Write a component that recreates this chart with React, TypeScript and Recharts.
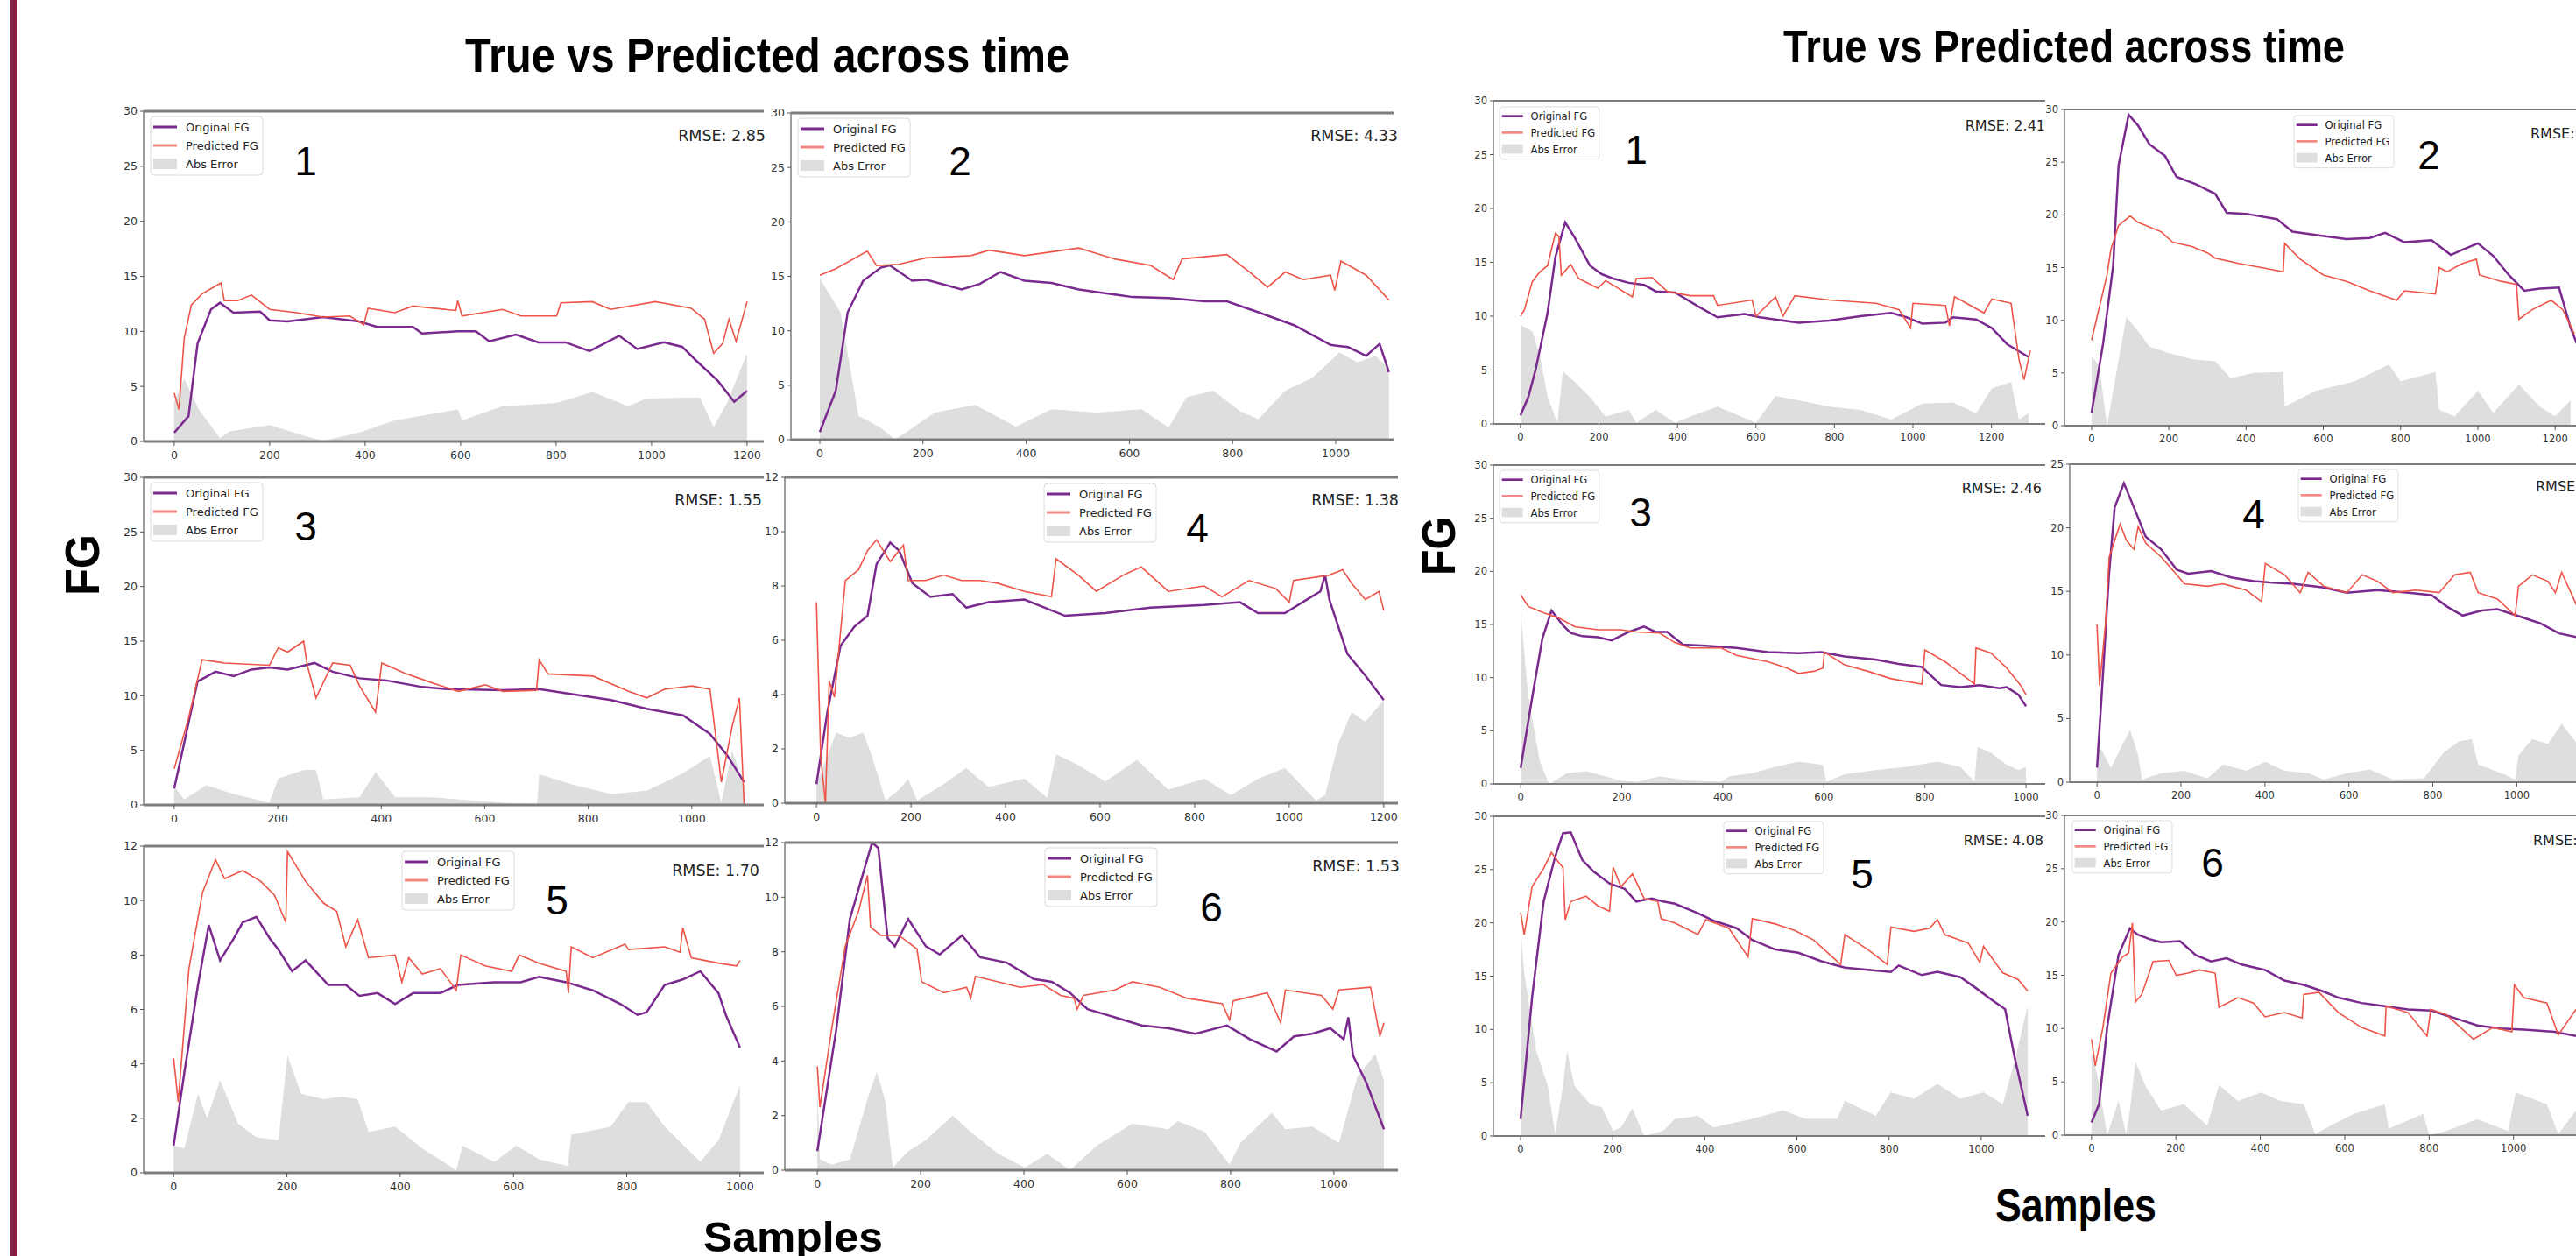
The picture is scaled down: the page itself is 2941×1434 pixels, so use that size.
import { ComposedChart, Line, Area, XAxis, YAxis, ReferenceLine } from "recharts";

const PURPLE = "#7a2a8e";
const RED = "#ee5448";
const GREY_FILL = "#dedede";
const SPINE = "#7d7d7d";
const MAROON = "#8b1c46";

type Pt = [number, number];

// ---- left figure: samples / FG values ----
const l1Orig: Pt[] = [[0,0.8],[30,2.3],[49,8.9],[77,12.0],[96,12.6],[124,11.7],[180,11.8],[200,11.0],[237,10.9],[312,11.3],[387,10.9],[425,10.4],[500,10.4],[519,9.8],[594,10.0],[632,10.0],[660,9.1],[716,9.7],[763,9.0],[820,9.0],[870,8.2],[932,9.6],[970,8.4],[1026,9.0],[1064,8.6],[1092,7.4],[1139,5.5],[1173,3.6],[1200,4.6]];
const l1Pred: Pt[] = [[0,4.4],[10,2.9],[21,9.4],[36,12.4],[58,13.4],[86,14.1],[98,14.4],[105,12.8],[133,12.8],[162,13.3],[200,12.0],[256,11.7],[312,11.3],[368,11.4],[397,10.6],[406,12.1],[462,11.7],[500,12.3],[590,11.9],[594,12.8],[603,11.4],[688,12.0],[726,11.4],[801,11.4],[810,12.6],[876,12.7],[914,12.0],[1008,12.7],[1083,12.1],[1111,11.1],[1130,8.0],[1149,8.9],[1162,11.1],[1177,9.1],[1200,12.7]];
const l1Err: Pt[] = [[0,3.6],[21,5.7],[50,3.0],[96,0.3],[115,0.9],[200,1.5],[274,0.5],[312,0.05],[387,0.8],[462,1.9],[594,2.9],[603,1.9],[688,3.2],[801,3.5],[876,4.5],[951,3.2],[989,3.9],[1101,4.0],[1130,1.3],[1158,3.5],[1200,8.0]];

const l2Orig: Pt[] = [[0,0.7],[31,4.5],[54,11.7],[84,14.6],[118,15.8],[136,16.0],[179,14.6],[206,14.7],[275,13.8],[310,14.3],[350,15.4],[397,14.6],[449,14.4],[502,13.8],[606,13.1],[676,13.0],[746,12.7],[789,12.7],[850,11.7],[920,10.5],[990,8.7],[1024,8.5],[1059,7.7],[1085,8.8],[1103,6.2]];
const l2Pred: Pt[] = [[0,15.1],[31,15.7],[92,17.3],[110,16.0],[153,16.1],[206,16.7],[293,16.9],[328,17.4],[397,16.9],[502,17.6],[571,16.6],[641,16.0],[685,14.7],[702,16.6],[789,17.0],[833,15.4],[868,14.0],[902,15.4],[937,14.7],[990,15.1],[998,13.7],[1010,16.4],[1059,15.1],[1094,13.3],[1103,12.8]];
const l2Err: Pt[] = [[0,14.8],[40,11.7],[75,2.2],[118,1.1],[145,0],[171,0.8],[223,2.5],[301,3.2],[380,1.2],[449,2.8],[537,2.5],[624,2.8],[676,1.1],[711,3.9],[763,4.5],[815,2.6],[850,1.9],[902,4.5],[955,5.7],[1007,8.0],[1042,7.1],[1077,7.7],[1103,6.5]];

const l3Orig: Pt[] = [[0,1.5],[19,5.6],[45,11.3],[80,12.2],[115,11.8],[149,12.4],[184,12.6],[219,12.4],[271,13.0],[306,12.2],[358,11.6],[410,11.4],[479,10.8],[531,10.6],[635,10.5],[705,10.6],[774,10.1],[844,9.6],[913,8.8],[983,8.2],[1035,6.5],[1069,4.5],[1101,2.1]];
const l3Pred: Pt[] = [[0,3.3],[28,8.0],[54,13.3],[97,13.0],[184,12.8],[201,14.4],[219,14.0],[250,15.0],[257,12.8],[274,9.8],[306,13.0],[340,12.8],[358,10.9],[389,8.5],[401,13.0],[444,12.1],[497,11.2],[549,10.4],[601,11.0],[635,10.4],[700,10.5],[705,13.3],[722,12.0],[809,11.8],[878,10.4],[913,9.8],[948,10.6],[1000,10.9],[1035,10.6],[1057,2.1],[1078,7.2],[1092,9.8],[1101,0]];
const l3Err: Pt[] = [[0,1.7],[19,0.5],[62,1.8],[115,1.0],[184,0.2],[201,2.4],[250,3.2],[274,3.2],[288,0.5],[358,0.7],[389,3.0],[427,0.7],[497,0.7],[635,0.2],[701,0.1],[705,2.8],[774,1.8],[844,1.0],[913,1.3],[983,2.9],[1035,4.5],[1057,0.2],[1078,5.0],[1101,1.8]];

const l4Orig: Pt[] = [[0,0.7],[23,3.35],[51,5.8],[80,6.5],[108,6.9],[127,8.8],[156,9.6],[175,9.3],[203,8.1],[241,7.6],[288,7.7],[317,7.2],[364,7.4],[440,7.5],[497,7.1],[526,6.9],[611,7.0],[706,7.2],[820,7.3],[896,7.4],[934,7.0],[991,7.0],[1047,7.6],[1066,7.8],[1076,8.4],[1085,7.5],[1123,5.5],[1161,4.7],[1200,3.8]];
const l4Pred: Pt[] = [[0,7.4],[9,1.7],[19,0.0],[27,4.5],[38,3.9],[61,8.2],[89,8.6],[108,9.3],[127,9.7],[156,8.9],[184,9.5],[194,8.2],[231,8.2],[269,8.4],[307,8.2],[345,8.2],[383,8.1],[440,7.8],[497,7.6],[507,9.0],[554,8.4],[592,7.8],[649,8.4],[687,8.7],[744,7.8],[820,8.0],[858,7.6],[915,8.2],[972,7.9],[1000,7.4],[1009,8.2],[1085,8.4],[1113,8.6],[1132,8.1],[1161,7.5],[1190,7.8],[1200,7.1]];
const l4Err: Pt[] = [[0,0.7],[42,2.6],[70,2.4],[99,2.6],[118,1.7],[146,0.1],[175,0.5],[194,0.9],[213,0.1],[269,0.7],[317,1.3],[364,0.6],[440,0.9],[488,0.2],[507,1.8],[554,1.4],[611,0.8],[678,1.6],[744,0.5],[820,0.9],[877,0.3],[934,0.9],[991,1.3],[1057,0.1],[1076,0.3],[1104,2.2],[1132,3.35],[1161,3.0],[1200,3.8]];

const l5Orig: Pt[] = [[0,1.0],[19,3.7],[43,6.9],[62,9.1],[82,7.8],[106,8.6],[122,9.2],[146,9.4],[170,8.6],[185,8.2],[209,7.4],[233,7.8],[273,6.9],[304,6.9],[328,6.5],[360,6.6],[391,6.2],[423,6.6],[471,6.6],[502,6.9],[566,7.0],[613,7.0],[645,7.2],[693,7.0],[740,6.7],[789,6.2],[819,5.8],[835,5.9],[867,6.9],[899,7.1],[930,7.4],[962,6.6],[975,5.8],[1000,4.6]];
const l5Pred: Pt[] = [[0,4.2],[8,2.6],[27,7.5],[51,10.3],[74,11.5],[90,10.8],[122,11.1],[154,10.7],[178,10.2],[198,9.2],[201,11.8],[233,10.7],[265,9.9],[288,9.6],[304,8.3],[325,9.3],[344,7.9],[391,8.0],[403,7.0],[415,7.9],[439,7.3],[471,7.5],[499,6.7],[507,8.0],[550,7.6],[597,7.4],[610,8.0],[645,7.7],[693,7.4],[697,6.6],[702,8.3],[740,7.9],[797,8.4],[803,8.2],[867,8.3],[894,8.1],[899,9.0],[914,7.9],[962,7.7],[994,7.6],[1000,7.8]];
const l5Err: Pt[] = [[0,1.0],[19,0.9],[43,2.9],[59,2.0],[82,3.4],[114,1.8],[146,1.3],[185,1.2],[201,4.3],[225,2.9],[265,2.7],[296,2.8],[325,2.7],[344,1.5],[391,1.7],[439,0.9],[499,0.1],[510,1.0],[566,0.4],[605,1.0],[645,0.5],[696,0.25],[702,1.4],[772,1.7],[803,2.6],[835,2.6],[867,1.7],[930,0.4],[962,1.2],[1000,3.2]];

const l6Orig: Pt[] = [[0,0.7],[37,5.2],[63,9.2],[89,10.9],[106,12.0],[118,11.8],[136,8.5],[150,8.2],[176,9.2],[210,8.2],[237,7.9],[280,8.6],[315,7.8],[367,7.6],[419,7.0],[454,6.9],[489,6.5],[523,5.9],[576,5.6],[628,5.3],[680,5.2],[732,5.0],[793,5.3],[837,4.8],[889,4.35],[923,4.9],[958,5.0],[993,5.2],[1019,4.8],[1028,5.6],[1037,4.2],[1063,3.2],[1097,1.5]];
const l6Pred: Pt[] = [[0,3.8],[5,2.3],[28,5.2],[54,8.2],[80,9.5],[97,10.8],[103,8.9],[123,8.6],[158,8.6],[193,8.1],[202,6.9],[245,6.5],[289,6.7],[297,6.3],[306,7.1],[350,6.9],[393,6.7],[437,6.8],[471,6.4],[497,6.3],[503,5.9],[515,6.4],[576,6.6],[610,6.9],[663,6.7],[715,6.3],[784,6.1],[798,5.5],[805,6.2],[871,6.5],[897,5.4],[906,6.6],[976,6.4],[998,5.9],[1010,6.6],[1071,6.7],[1089,4.9],[1097,5.4]];
const l6Err: Pt[] = [[0,3.1],[5,0.4],[28,0.2],[63,0.4],[80,1.5],[97,2.6],[115,3.6],[132,2.5],[146,0.1],[176,0.7],[210,1.1],[262,2.0],[297,1.4],[350,0.6],[402,0.1],[445,0.6],[489,0],[541,0.9],[610,1.7],[680,1.5],[698,1.8],[750,1.4],[798,0.2],[819,1.0],[880,2.1],[906,1.5],[958,1.6],[1010,1.0],[1045,3.4],[1080,4.25],[1097,3.3]];

// ---- right figure ----
const r1Orig: Pt[] = [[0,0.8],[20,2.5],[39,5.1],[69,10.3],[89,15.5],[114,18.7],[138,17.3],[177,14.7],[207,13.9],[236,13.5],[276,13.1],[315,12.9],[345,12.3],[394,12.2],[453,10.9],[502,9.9],[571,10.2],[610,9.9],[709,9.4],[787,9.6],[866,10.0],[945,10.3],[984,9.9],[1024,9.3],[1083,9.4],[1102,9.9],[1161,9.7],[1201,8.9],[1240,7.4],[1295,6.2]];
const r1Pred: Pt[] = [[0,10.0],[10,10.6],[30,13.2],[49,14.1],[69,14.7],[89,17.7],[98,17.4],[104,13.8],[128,14.8],[148,13.5],[197,12.6],[217,13.3],[285,11.8],[295,13.5],[335,13.6],[374,12.3],[433,11.9],[492,11.9],[502,11.0],[590,11.5],[600,10.0],[650,11.8],[669,10.0],[699,11.9],[787,11.5],[906,11.2],[965,10.6],[994,8.9],[1000,11.2],[1083,11.0],[1093,9.1],[1106,11.8],[1181,10.3],[1201,11.6],[1250,11.2],[1270,6.0],[1283,4.1],[1299,6.8]];
const r1Err: Pt[] = [[0,9.2],[30,8.6],[49,6.5],[69,2.5],[94,0.1],[108,4.9],[138,3.9],[177,2.5],[217,0.7],[276,1.3],[295,0.1],[345,1.3],[394,0.1],[433,0.7],[502,1.6],[600,0.1],[650,2.6],[709,2.2],[787,1.6],[866,1.3],[945,0.4],[1024,1.9],[1102,2.0],[1161,1.0],[1201,3.3],[1250,3.9],[1270,0.4],[1295,1.0]];

const r2Orig: Pt[] = [[0,1.2],[30,7.8],[56,15.2],[70,24.7],[96,29.5],[120,28.5],[150,26.7],[190,25.6],[220,23.6],[270,22.9],[320,22.0],[350,20.2],[400,20.1],[480,19.6],[520,18.4],[580,18.1],[660,17.7],[720,17.8],[760,18.3],[810,17.4],[880,17.6],[930,16.2],[960,16.7],[1000,17.3],[1040,16.1],[1080,14.3],[1120,12.8],[1160,13.0],[1210,13.1],[1240,9.3],[1256,7.8]];
const r2Pred: Pt[] = [[0,8.1],[40,14.3],[50,16.7],[70,19.0],[100,19.9],[120,19.3],[180,18.4],[210,17.4],[260,17.0],[300,16.4],[320,15.9],[380,15.4],[440,15.0],[496,14.6],[500,17.3],[540,15.8],[600,14.3],[660,13.7],[720,12.8],[790,11.9],[810,12.8],[890,12.5],[900,15.0],[920,14.6],[960,15.4],[996,15.8],[1004,14.3],[1060,13.7],[1100,13.4],[1106,10.1],[1140,11.0],[1190,11.9],[1220,11.0],[1250,8.7]];
const r2Err: Pt[] = [[0,6.6],[20,5.7],[40,0],[90,10.3],[120,9.0],[150,7.5],[200,6.9],[260,6.3],[320,6.1],[360,4.5],[420,5.0],[496,5.1],[500,1.8],[580,3.3],[680,4.2],[770,5.8],[800,4.2],[890,5.1],[900,1.5],[940,0.9],[1000,3.3],[1040,1.2],[1106,3.9],[1160,1.8],[1200,0.9],[1240,2.4]];

const r3Orig: Pt[] = [[0,1.5],[23,8.2],[43,13.7],[61,16.3],[84,14.9],[99,14.2],[122,13.9],[153,13.8],[180,13.5],[214,14.3],[244,14.8],[267,14.3],[290,14.3],[321,13.1],[366,13.0],[427,12.8],[489,12.4],[550,12.3],[595,12.4],[641,12.0],[702,11.7],[748,11.3],[794,11.0],[832,9.3],[870,9.1],[908,9.3],[947,9.0],[962,9.1],[985,8.4],[1000,7.3]];
const r3Pred: Pt[] = [[0,17.8],[15,16.7],[46,16.1],[76,15.6],[107,14.8],[153,14.5],[198,14.5],[229,14.3],[275,14.2],[305,13.3],[336,12.8],[397,12.8],[427,12.1],[489,11.5],[527,10.9],[550,10.4],[580,10.6],[598,10.9],[601,12.4],[641,11.2],[687,10.6],[733,9.9],[794,9.4],[800,12.6],[840,11.5],[898,9.4],[901,12.8],[931,12.3],[962,10.9],[989,9.3],[1000,8.4]];
const r3Err: Pt[] = [[0,16.2],[15,8.2],[38,2.1],[56,0],[92,1.0],[130,1.2],[168,0.7],[198,0.3],[229,0.2],[275,0.7],[336,0.3],[397,0.2],[412,0.7],[458,1.0],[504,1.6],[550,2.1],[598,1.8],[605,0.2],[641,0.9],[702,1.3],[763,1.6],[824,2.1],[870,1.6],[898,0.2],[904,3.5],[931,2.9],[962,1.8],[985,1.3],[1000,1.6]];

const r4Orig: Pt[] = [[0,1.15],[15,8.9],[28,16.1],[42,21.6],[64,23.5],[88,21.6],[116,19.3],[153,18.3],[190,16.7],[217,16.4],[272,16.6],[319,16.1],[374,15.8],[411,15.7],[466,15.6],[540,15.3],[595,14.9],[668,15.1],[742,14.9],[797,14.7],[834,13.8],[871,13.1],[917,13.5],[954,13.6],[1000,13.1],[1055,12.5],[1101,11.7],[1144,11.4]];
const r4Pred: Pt[] = [[0,12.4],[6,7.6],[20,12.4],[29,17.7],[55,20.3],[70,19.0],[88,18.3],[98,20.1],[116,18.8],[153,17.7],[190,16.3],[208,15.6],[263,15.4],[300,15.6],[355,15.1],[392,14.2],[401,17.2],[447,16.3],[484,14.9],[503,16.5],[540,15.4],[595,14.9],[632,16.3],[668,15.8],[705,14.9],[760,15.1],[815,14.9],[852,16.3],[889,16.5],[908,14.9],[954,14.4],[996,13.1],[1004,15.4],[1037,16.3],[1074,15.8],[1092,14.9],[1107,16.5],[1144,13.8]];
const r4Err: Pt[] = [[0,3.2],[33,1.1],[61,3.0],[79,4.1],[98,2.1],[107,0.2],[153,0.7],[208,0.9],[263,0.3],[300,1.4],[355,0.9],[401,1.6],[447,0.9],[503,0.7],[540,0.2],[595,0.7],[650,1.0],[705,0.2],[779,0.3],[825,2.3],[862,3.2],[893,3.4],[908,1.4],[963,0.7],[996,0.2],[1004,2.1],[1037,3.4],[1074,3.0],[1107,4.6],[1144,3.0]];

const r5Orig: Pt[] = [[0,1.6],[25,13.0],[50,22.0],[75,26.2],[92,28.4],[109,28.5],[134,25.9],[159,24.8],[193,23.7],[226,23.2],[251,22.0],[285,22.3],[310,22.0],[335,21.8],[385,20.9],[419,20.2],[469,19.5],[503,18.4],[553,17.5],[603,17.2],[653,16.4],[704,15.8],[754,15.6],[804,15.4],[821,16.0],[871,15.1],[905,15.4],[955,14.9],[988,13.9],[1022,12.8],[1052,11.9],[1072,7.5],[1101,1.9]];
const r5Pred: Pt[] = [[0,21.0],[8,18.9],[25,23.4],[50,25.1],[67,26.6],[84,25.6],[92,25.2],[97,20.3],[109,22.0],[142,22.5],[168,21.6],[193,21.1],[201,25.2],[218,23.4],[243,24.6],[268,22.3],[298,22.0],[305,20.4],[335,20.0],[385,18.9],[402,20.3],[452,19.5],[494,16.8],[503,20.4],[553,19.9],[595,19.3],[636,18.4],[695,16.1],[704,18.9],[754,17.5],[796,16.1],[804,19.6],[854,19.2],[888,19.5],[905,20.3],[921,18.9],[972,18.1],[997,16.3],[1005,17.8],[1047,15.3],[1080,14.7],[1101,13.6]];
const r5Err: Pt[] = [[0,19.4],[8,15.3],[34,8.0],[59,4.7],[75,0.2],[92,4.7],[101,8.0],[117,4.7],[151,3.0],[176,2.7],[201,0.5],[218,0.8],[243,2.6],[268,0],[310,0.5],[335,1.6],[385,1.9],[419,0.8],[469,1.3],[503,1.6],[570,2.4],[620,1.6],[687,1.6],[704,3.3],[771,1.9],[804,4.1],[854,3.5],[905,4.9],[955,3.5],[1005,4.1],[1047,3.0],[1072,6.9],[1101,12.2]];

const r6Orig: Pt[] = [[0,1.2],[18,2.9],[37,10.1],[64,16.9],[91,19.4],[110,18.8],[137,18.4],[165,18.1],[210,18.2],[247,16.9],[283,16.3],[320,16.6],[356,16.0],[411,15.5],[457,14.5],[503,14.1],[548,13.5],[585,12.9],[640,12.4],[695,12.1],[750,11.8],[804,11.7],[859,11.0],[914,10.3],[969,10.0],[1024,9.9],[1097,9.7],[1148,9.3]];
const r6Pred: Pt[] = [[0,9.0],[9,6.5],[27,10.1],[46,15.2],[73,16.7],[88,17.1],[97,19.9],[104,12.5],[119,13.2],[146,16.3],[183,16.4],[201,15.0],[229,15.2],[256,15.5],[293,15.2],[302,12.0],[347,12.9],[384,12.4],[411,11.1],[457,11.5],[499,11.0],[503,13.2],[539,13.4],[585,11.5],[640,10.1],[695,9.3],[698,12.1],[750,11.5],[795,9.3],[804,11.8],[841,11.3],[905,9.0],[951,10.1],[996,9.7],[1002,14.1],[1024,12.9],[1079,12.4],[1106,9.4],[1148,11.8]];
const r6Err: Pt[] = [[0,7.8],[15,5.4],[37,0],[64,3.2],[82,0.1],[91,2.3],[104,6.9],[128,4.6],[165,2.3],[219,2.9],[274,0.9],[302,4.7],[347,3.2],[402,4.0],[448,3.2],[503,2.9],[530,0.1],[567,0.9],[622,2.0],[695,2.9],[704,0.6],[786,2.0],[800,0],[841,0.4],[914,1.5],[987,0.4],[1005,4.0],[1079,2.9],[1106,0.1],[1148,2.3]];

const ticks1000 = [0, 200, 400, 600, 800, 1000];
const ticks1200 = [0, 200, 400, 600, 800, 1000, 1200];
const fg30 = [0, 5, 10, 15, 20, 25, 30];
const fg25 = [0, 5, 10, 15, 20, 25];
const fg12 = [0, 2, 4, 6, 8, 10, 12];

const toRows = (pts: Pt[]) => pts.map(([x, y]) => ({ x, y }));

interface PanelProps {
  left: number; top: number; right: number; bottom: number;
  xDomain: [number, number]; xTicks: number[];
  yMax: number; yTicks: number[];
  orig: Pt[]; pred: Pt[]; err: Pt[];
  fontSize: number; spine: number;
  num: string; numX: number; numY: number;
  rmse: string; rmseX: number; rmseY: number; rmseAnchor: "start" | "end";
  legX: number; legY: number; legS: number;
}

const panels: PanelProps[] = [
  { left: 164, top: 127, right: 872, bottom: 504, xDomain: [-64, 1235], xTicks: ticks1200, yMax: 30, yTicks: fg30, orig: l1Orig, pred: l1Pred, err: l1Err, fontSize: 12.5, spine: 3, num: "1", numX: 349, numY: 200, rmse: "RMSE: 2.85", rmseX: 874, rmseY: 161, rmseAnchor: "end", legX: 172, legY: 133, legS: 1 },
  { left: 903, top: 129, right: 1591, bottom: 502, xDomain: [-56, 1112], xTicks: ticks1000, yMax: 30, yTicks: fg30, orig: l2Orig, pred: l2Pred, err: l2Err, fontSize: 12.5, spine: 3, num: "2", numX: 1096, numY: 200, rmse: "RMSE: 4.33", rmseX: 1596, rmseY: 161, rmseAnchor: "end", legX: 911, legY: 135, legS: 1 },
  { left: 164, top: 545, right: 872, bottom: 919, xDomain: [-59, 1139], xTicks: ticks1000, yMax: 30, yTicks: fg30, orig: l3Orig, pred: l3Pred, err: l3Err, fontSize: 12.5, spine: 3, num: "3", numX: 349, numY: 617, rmse: "RMSE: 1.55", rmseX: 870, rmseY: 577, rmseAnchor: "end", legX: 172, legY: 551, legS: 1 },
  { left: 896, top: 545, right: 1596, bottom: 917, xDomain: [-67, 1230], xTicks: ticks1200, yMax: 12, yTicks: fg12, orig: l4Orig, pred: l4Pred, err: l4Err, fontSize: 12.5, spine: 3, num: "4", numX: 1367, numY: 619, rmse: "RMSE: 1.38", rmseX: 1597, rmseY: 577, rmseAnchor: "end", legX: 1192, legY: 552, legS: 1 },
  { left: 164, top: 966, right: 872, bottom: 1339, xDomain: [-53, 1042], xTicks: ticks1000, yMax: 12, yTicks: fg12, orig: l5Orig, pred: l5Pred, err: l5Err, fontSize: 12.5, spine: 3, num: "5", numX: 636, numY: 1044, rmse: "RMSE: 1.70", rmseX: 867, rmseY: 1000, rmseAnchor: "end", legX: 459, legY: 972, legS: 1 },
  { left: 896, top: 962, right: 1596, bottom: 1336, xDomain: [-63, 1124], xTicks: ticks1000, yMax: 12, yTicks: fg12, orig: l6Orig, pred: l6Pred, err: l6Err, fontSize: 12.5, spine: 3, num: "6", numX: 1383, numY: 1052, rmse: "RMSE: 1.53", rmseX: 1598, rmseY: 995, rmseAnchor: "end", legX: 1193, legY: 968, legS: 1 },
  { left: 1705, top: 115, right: 2335, bottom: 484, xDomain: [-69, 1337], xTicks: ticks1200, yMax: 30, yTicks: fg30, orig: r1Orig, pred: r1Pred, err: r1Err, fontSize: 11.5, spine: 2.2, num: "1", numX: 1868, numY: 187, rmse: "RMSE: 2.41", rmseX: 2335, rmseY: 149, rmseAnchor: "end", legX: 1712, legY: 122, legS: 0.89 },
  { left: 2357, top: 125, right: 2990, bottom: 486, xDomain: [-70, 1365], xTicks: ticks1200, yMax: 30, yTicks: fg30, orig: r2Orig, pred: r2Pred, err: r2Err, fontSize: 11.5, spine: 2.2, num: "2", numX: 2773, numY: 193, rmse: "RMSE:", rmseX: 2889, rmseY: 158, rmseAnchor: "start", legX: 2619, legY: 132, legS: 0.89 },
  { left: 1705, top: 531, right: 2335, bottom: 895, xDomain: [-54, 1038], xTicks: ticks1000, yMax: 30, yTicks: fg30, orig: r3Orig, pred: r3Pred, err: r3Err, fontSize: 11.5, spine: 2.2, num: "3", numX: 1873, numY: 601, rmse: "RMSE: 2.46", rmseX: 2331, rmseY: 563, rmseAnchor: "end", legX: 1712, legY: 537, legS: 0.89 },
  { left: 2363, top: 530, right: 2998, bottom: 893, xDomain: [-65, 1260], xTicks: ticks1200, yMax: 25, yTicks: fg25, orig: r4Orig, pred: r4Pred, err: r4Err, fontSize: 11.5, spine: 2.2, num: "4", numX: 2573, numY: 603, rmse: "RMSE:", rmseX: 2895, rmseY: 561, rmseAnchor: "start", legX: 2624, legY: 536, legS: 0.89 },
  { left: 1705, top: 932, right: 2335, bottom: 1297, xDomain: [-59, 1139], xTicks: ticks1000, yMax: 30, yTicks: fg30, orig: r5Orig, pred: r5Pred, err: r5Err, fontSize: 11.5, spine: 2.2, num: "5", numX: 2126, numY: 1014, rmse: "RMSE: 4.08", rmseX: 2333, rmseY: 965, rmseAnchor: "end", legX: 1968, legY: 938, legS: 0.89 },
  { left: 2357, top: 931, right: 2995, bottom: 1296, xDomain: [-64, 1260], xTicks: ticks1200, yMax: 30, yTicks: fg30, orig: r6Orig, pred: r6Pred, err: r6Err, fontSize: 11.5, spine: 2.2, num: "6", numX: 2526, numY: 1001, rmse: "RMSE:", rmseX: 2892, rmseY: 965, rmseAnchor: "start", legX: 2366, legY: 937, legS: 0.89 },
];

const YW = 44;
const MT = 12;
const XH = 32;

const Panel = ({ p }: { p: PanelProps }) => {
  const tick = { fontSize: p.fontSize, fill: "#333", fontFamily: "DejaVu Sans" };
  return (
    <div style={{ position: "absolute", left: p.left - YW, top: p.top - MT }}>
      <ComposedChart
        width={p.right - p.left + YW}
        height={p.bottom - p.top + MT + XH}
        margin={{ top: MT, right: 0, bottom: 0, left: 0 }}
      >
        <XAxis
          type="number"
          dataKey="x"
          domain={p.xDomain}
          ticks={p.xTicks}
          interval={0}
          allowDataOverflow
          height={XH}
          tickSize={5}
          tickMargin={6}
          axisLine={{ stroke: SPINE, strokeWidth: p.spine }}
          tickLine={{ stroke: "#555" }}
          tick={tick}
        />
        <YAxis
          type="number"
          domain={[0, p.yMax]}
          ticks={p.yTicks}
          interval={0}
          allowDataOverflow
          width={YW}
          tickSize={4}
          tickMargin={3}
          axisLine={{ stroke: SPINE, strokeWidth: 1.5 }}
          tickLine={{ stroke: "#555" }}
          tick={tick}
        />
        <Area data={toRows(p.err)} dataKey="y" type="linear" stroke="none" fill={GREY_FILL} fillOpacity={1} isAnimationActive={false} />
        <Line data={toRows(p.orig)} dataKey="y" type="linear" stroke={PURPLE} strokeWidth={2.5} dot={false} isAnimationActive={false} />
        <Line data={toRows(p.pred)} dataKey="y" type="linear" stroke={RED} strokeWidth={1.6} dot={false} isAnimationActive={false} />
        <ReferenceLine y={p.yMax} stroke={SPINE} strokeWidth={p.spine} />
      </ComposedChart>
    </div>
  );
};

const LegendBox = ({ x, y, s }: { x: number; y: number; s: number }) => (
  <g transform={`translate(${x},${y}) scale(${s})`} fontFamily="DejaVu Sans" fontSize={13} fill="#222">
    <rect x={0} y={0} width={128} height={67} rx={4} fill="#fff" fillOpacity={0.85} stroke="#d9d9d9" />
    <line x1={3} x2={30} y1={12} y2={12} stroke={PURPLE} strokeWidth={3} />
    <text x={40} y={17}>Original FG</text>
    <line x1={3} x2={30} y1={33} y2={33} stroke={RED} strokeOpacity={0.7} strokeWidth={3} />
    <text x={40} y={38}>Predicted FG</text>
    <rect x={3} y={48} width={27} height={12} fill={GREY_FILL} />
    <text x={40} y={59}>Abs Error</text>
  </g>
);

const Overlay = () => (
  <svg width={2941} height={1434} style={{ position: "absolute", left: 0, top: 0, pointerEvents: "none" }}>
    <rect x={11} y={0} width={8} height={1434} fill={MAROON} />
    <text x={531} y={82} fontFamily="Liberation Sans" fontWeight="bold" fontSize={56} textLength={690} lengthAdjust="spacingAndGlyphs">True vs Predicted across time</text>
    <text x={2036} y={71} fontFamily="Liberation Sans" fontWeight="bold" fontSize={51} textLength={641} lengthAdjust="spacingAndGlyphs">True vs Predicted across time</text>
    <text x={803} y={1429} fontFamily="Liberation Sans" fontWeight="bold" fontSize={49} textLength={205} lengthAdjust="spacingAndGlyphs">Samples</text>
    <text x={2278} y={1394} fontFamily="Liberation Sans" fontWeight="bold" fontSize={51} textLength={184} lengthAdjust="spacingAndGlyphs">Samples</text>
    <text x={0} y={0} transform="translate(113,680) rotate(-90)" fontFamily="Liberation Sans" fontWeight="bold" fontSize={56} textLength={70} lengthAdjust="spacingAndGlyphs">FG</text>
    <text x={0} y={0} transform="translate(1661,657) rotate(-90)" fontFamily="Liberation Sans" fontWeight="bold" fontSize={54} textLength={67} lengthAdjust="spacingAndGlyphs">FG</text>
    {panels.map((p, i) => (
      <g key={i}>
        <LegendBox x={p.legX} y={p.legY} s={p.legS} />
        <text x={p.rmseX} y={p.rmseY} textAnchor={p.rmseAnchor} fontFamily="DejaVu Sans" fontSize={p.legS < 1 ? 16 : 17.5} fill="#222">{p.rmse}</text>
        <text x={p.numX} y={p.numY} textAnchor="middle" fontFamily="Liberation Sans" fontSize={46} fill="#000">{p.num}</text>
      </g>
    ))}
  </svg>
);

export default function App() {
  return (
    <div style={{ position: "absolute", left: 0, top: 0, width: 2941, height: 1434, overflow: "hidden", background: "#fff" }}>
      {panels.map((p, i) => (
        <Panel key={i} p={p} />
      ))}
      <Overlay />
    </div>
  );
}
